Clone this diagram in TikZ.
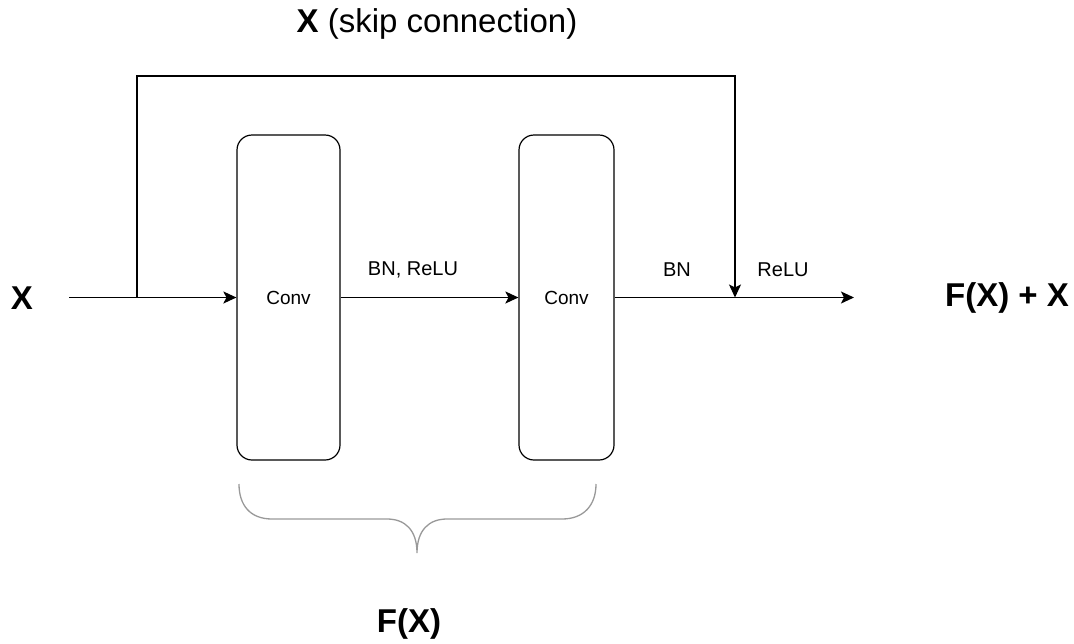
\documentclass[tikz,border=0pt]{standalone}
\usepackage{fontspec}
\setmainfont{Liberation Sans}
\usetikzlibrary{arrows.meta}
\tikzset{
  conv/.style={draw, line width=1.2pt, rounded corners=15pt, inner sep=0pt,
    font=\fontsize{19}{22}\selectfont},
  arr/.style={line width=1.3pt, -{Stealth[length=13pt,width=12pt,inset=3pt]}},
  small/.style={font=\fontsize{20}{24}\selectfont, inner sep=0pt},
  big/.style={font=\fontsize{33}{38}\selectfont\bfseries, inner sep=0pt},
  brace/.style={draw=black!40, line width=1.3pt}
}
\begin{document}
\begin{tikzpicture}[x=1pt,y=-1pt]
\useasboundingbox (0,0) rectangle (1074,643);
% boxes
\node[conv, minimum width=103pt, minimum height=325pt] (b1) at (288.5,297.5) {Conv};
\node[conv, minimum width=95pt, minimum height=325pt] (b2) at (566.5,297.5) {Conv};
% coordinates
\coordinate (in) at (69,297.5);
\coordinate (s) at (137,297.5);
\coordinate (top) at (137,76);
\coordinate (j) at (735,297.5);
\coordinate (o) at (854,297.5);
% connectors
\draw[arr] (in) -- (b1.west);
\draw[arr] (b1.east) -- (b2.west);
\draw[arr] (b2.east) -- (o);
\draw[arr] (s) -- (top) -| (j);
% labels
\node[big] (lx) at (22,298) {X};
\node[big] (lout) at (1007,298) {F(X) + X};
\node[small] (l1) at (413,270) {BN, ReLU};
\node[small] (l2) at (677,270) {BN};
\node[small] (l3) at (783,270) {ReLU};
\node[font=\fontsize{33}{38}\selectfont, inner sep=0pt] (lskip) at (437,24) {\textbf{X} (skip connection)};
% brace
\coordinate (br1) at (239,484);
\coordinate (br2) at (596,484);
\coordinate (tip) at (417,553);
\draw[brace] (br1) .. controls (239,505) and (250,519) .. (272,519)
  -- (387,519) .. controls (405,519) and (417,530) .. (tip)
  .. controls (417,530) and (429,519) .. (447,519)
  -- (562,519) .. controls (584,519) and (596,505) .. (br2);
\node[big] (lf) at (409,624) {F(X)};
\end{tikzpicture}
\end{document}
